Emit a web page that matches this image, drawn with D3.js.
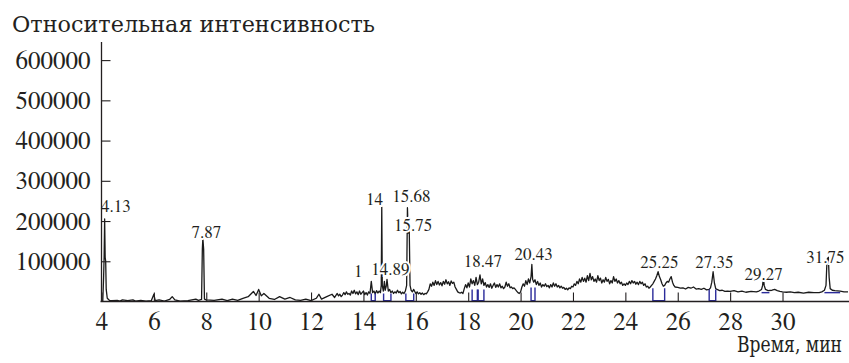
<!DOCTYPE html>
<html>
<head>
<meta charset="utf-8">
<script src="https://cdn.jsdelivr.net/npm/d3@7"></script>
<style>
    body { margin: 0; background: #fff; }
</style>
</head>
<body>
<div id="chart-area"></div>
<script>
// retention time (min) and intensity of the chromatogram trace
var traceTime = [4.00, 4.05, 4.08, 4.10, 4.12, 4.14, 4.16, 4.18, 4.22, 4.3, 4.4, 4.6, 4.7, 4.8, 5.0, 5.2, 5.3, 5.5, 5.7, 5.9,
    6.0, 6.05, 6.2, 6.4, 6.6, 6.7, 6.8, 7.0, 7.3, 7.6, 7.7, 7.82, 7.85, 7.87, 7.9, 7.93, 8.0, 8.3, 8.6, 8.8,
    9.0, 9.2, 9.4, 9.6, 9.8, 9.9, 10.0, 10.1, 10.2, 10.4, 10.6, 10.8, 11.0, 11.2, 11.4, 11.6, 11.8, 12.0, 12.2, 12.3,
    12.4, 12.6, 12.8, 12.9,
    13.00, 13.05, 13.10, 13.15, 13.20, 13.25, 13.30, 13.35, 13.40, 13.45, 13.50, 13.55, 13.60, 13.65, 13.70, 13.75, 13.80, 13.85, 13.90, 13.95,
    14.00, 14.05, 14.10, 14.15, 14.20, 14.25, 14.30, 14.35, 14.40, 14.45, 14.50, 14.55, 14.60, 14.65, 14.68, 14.70, 14.72, 14.76, 14.80, 14.83,
    14.87, 14.90, 14.95, 15.00, 15.05, 15.10, 15.15, 15.20, 15.25, 15.30, 15.35, 15.40, 15.45, 15.50, 15.55, 15.60, 15.65, 15.68, 15.71, 15.75,
    15.78, 15.82, 15.87, 15.92, 16.00, 16.05, 16.10, 16.15, 16.20, 16.25, 16.30, 16.35, 16.40, 16.45,
    16.50, 16.55, 16.60, 16.65, 16.70, 16.75, 16.80, 16.85, 16.90, 16.95, 17.00, 17.05, 17.10, 17.15, 17.20, 17.25, 17.30, 17.35, 17.40, 17.45,
    17.50, 17.55, 17.60, 17.65, 17.70, 17.75, 17.80, 17.85, 17.90, 17.95, 18.00, 18.05, 18.10, 18.15, 18.20, 18.25, 18.30, 18.35, 18.40, 18.45,
    18.50, 18.55, 18.60, 18.65, 18.70, 18.75, 18.80, 18.85, 18.90, 18.95, 19.00, 19.05, 19.10, 19.15, 19.20, 19.25, 19.30, 19.35, 19.40, 19.45,
    19.50, 19.55, 19.60, 19.65, 19.70, 19.75, 19.80, 19.85, 19.90, 19.95, 20.00, 20.05, 20.10, 20.15, 20.20, 20.25, 20.30, 20.35, 20.40, 20.43,
    20.46, 20.50, 20.55, 20.60, 20.65, 20.70, 20.75, 20.80, 20.85, 20.90, 20.95, 21.00, 21.05, 21.10, 21.15, 21.20, 21.25, 21.30, 21.35, 21.40,
    21.45, 21.50, 21.55, 21.60, 21.65, 21.70, 21.75, 21.80, 21.85, 21.90, 21.95, 22.00, 22.05, 22.10, 22.15, 22.20, 22.25, 22.30, 22.35, 22.40,
    22.45, 22.50, 22.55, 22.60, 22.65, 22.70, 22.75, 22.80, 22.85, 22.90, 22.95, 23.00, 23.05, 23.10, 23.15, 23.20, 23.25, 23.30, 23.35, 23.40,
    23.45, 23.50, 23.55, 23.60, 23.65, 23.70, 23.75, 23.80, 23.85, 23.90, 23.95, 24.00, 24.05, 24.10, 24.15, 24.20, 24.25, 24.30, 24.35, 24.40,
    24.45, 24.50, 24.55, 24.60, 24.65, 24.70, 24.75, 24.80, 24.85, 24.90, 24.95, 25.00, 25.05, 25.10, 25.15, 25.20, 25.25, 25.30, 25.35, 25.40,
    25.45, 25.50, 25.55, 25.60, 25.65, 25.70, 25.75, 25.80, 25.85, 25.90, 26.0, 26.1, 26.2, 26.3, 26.4, 26.5, 26.6, 26.7, 26.8, 26.9,
    27.0, 27.1, 27.2, 27.25, 27.3, 27.35, 27.4, 27.45, 27.5, 27.6, 27.7, 27.8, 27.9, 28.0, 28.15, 28.3, 28.45, 28.6, 28.8, 29.0,
    29.1, 29.2, 29.24, 29.27, 29.3, 29.35, 29.45, 29.6, 29.7, 29.8, 29.9, 30.0, 30.15, 30.3, 30.45, 30.6, 30.8, 31.0, 31.2, 31.4,
    31.5, 31.6, 31.66, 31.7, 31.75, 31.78, 31.82, 31.9, 32.0, 32.2, 32.35, 32.5];
var traceValue = [0, 2000, 60000, 110000, 205000, 110000, 100000, 30000, 8000, 3000, 2000, 3000, 1000, 4000, 2000, 4000, 1000, 3000, 1000, 2000,
    18000, 2000, 4000, 1000, 5000, 12000, 4000, 1000, 2000, 6000, 3000, 5000, 130000, 157000, 130000, 6000, 4000, 3000, 6000, 2000,
    6000, 3000, 8000, 12000, 25000, 15000, 30000, 14000, 20000, 8000, 5000, 12000, 6000, 10000, 4000, 3000, 6000, 2000, 8000, 18000,
    6000, 12000, 18000, 10000,
    20000, 14000, 18000, 12000, 16000, 22000, 17000, 24000, 18000, 20000, 16000, 26000, 20000, 28000, 19000, 24000, 17000, 26000, 18000, 22000,
    26000, 17000, 22000, 16000, 24000, 20000, 50000, 22000, 26000, 19000, 27000, 21000, 26000, 22000, 40000, 237000, 40000, 26000, 50000, 28000,
    38000, 55000, 26000, 30000, 22000, 26000, 20000, 24000, 21000, 28000, 22000, 25000, 19000, 23000, 20000, 26000, 40000, 233000, 170000, 175000,
    40000, 28000, 24000, 30000, 20000, 24000, 19000, 22000, 18000, 21000, 17000, 20000, 19000, 24000,
    30000, 44000, 38000, 48000, 40000, 52000, 42000, 50000, 41000, 47000, 39000, 50000, 43000, 54000, 44000, 49000, 40000, 51000, 45000, 48000,
    36000, 30000, 24000, 22000, 21000, 23000, 20000, 32000, 42000, 34000, 46000, 36000, 56000, 44000, 52000, 40000, 60000, 42000, 48000, 66000,
    44000, 56000, 40000, 47000, 36000, 42000, 35000, 44000, 33000, 40000, 46000, 35000, 42000, 36000, 44000, 34000, 38000, 32000, 36000, 48000,
    38000, 44000, 34000, 36000, 32000, 34000, 30000, 26000, 22000, 20000, 24000, 36000, 44000, 38000, 52000, 42000, 56000, 46000, 62000, 92000,
    55000, 48000, 54000, 42000, 50000, 40000, 46000, 36000, 42000, 38000, 44000, 37000, 40000, 34000, 42000, 36000, 46000, 38000, 44000, 36000,
    40000, 34000, 38000, 33000, 35000, 30000, 33000, 29000, 34000, 32000, 38000, 36000, 44000, 40000, 50000, 44000, 56000, 48000, 60000, 50000,
    58000, 48000, 64000, 52000, 70000, 54000, 62000, 50000, 56000, 48000, 64000, 52000, 58000, 46000, 54000, 48000, 60000, 50000, 55000, 44000,
    52000, 46000, 62000, 50000, 56000, 46000, 52000, 44000, 48000, 40000, 44000, 40000, 46000, 42000, 50000, 44000, 52000, 46000, 50000, 43000,
    48000, 42000, 50000, 44000, 48000, 40000, 44000, 36000, 38000, 33000, 36000, 40000, 44000, 50000, 56000, 64000, 74000, 62000, 54000, 44000,
    38000, 40000, 46000, 50000, 48000, 56000, 62000, 48000, 40000, 36000, 35000, 33000, 34000, 31000, 35000, 33000, 36000, 31000, 32000, 30000,
    33000, 29000, 30000, 34000, 48000, 74000, 46000, 32000, 30000, 27000, 28000, 25000, 26000, 25000, 27000, 24000, 26000, 23000, 25000, 24000,
    26000, 30000, 40000, 60000, 40000, 30000, 27000, 28000, 30000, 27000, 25000, 24000, 23000, 24000, 22000, 23000, 21000, 23000, 22000, 22000,
    24000, 28000, 40000, 105000, 110000, 60000, 32000, 28000, 27000, 26000, 24000, 24000];

// integration baselines (blue): start, end, top and bottom intensity
var baseStart = [14.3, 14.77, 15.62, 18.15, 18.38, 20.4, 25.05, 27.2, 29.2, 31.6];
var baseEnd = [14.45, 15.05, 15.92, 18.35, 18.6, 20.55, 25.5, 27.45, 29.5, 32.2];
var baseTop = [20000, 20000, 20000, 30000, 30000, 35000, 33000, 30000, 22000, 22000];
var baseBottom = [2000, 2000, 2000, 2000, 2000, 2000, 2000, 2000, 22000, 22000];

// peak labels: text, time and intensity of the label baseline
var peakText = ["4.13", "7.87", "14", "15.68", "15.75", "1", "14.89", "18.47", "20.43", "25.25", "27.35", "29.27", "31.75"];
var peakTime = [4.55, 8.0, 14.42, 15.83, 15.9, 13.8, 15.03, 18.56, 20.5, 25.3, 27.4, 29.28, 31.64];
var peakLevel = [222000, 158000, 240000, 248000, 174000, 61000, 66000, 86000, 103000, 83000, 83000, 53000, 96000];

var xTicks = [4, 6, 8, 10, 12, 14, 16, 18, 20, 22, 24, 26, 28, 30];
var yTicks = [100000, 200000, 300000, 400000, 500000, 600000];

var width = 849;
var height = 363;
var ink = "#231f20";
// digits in a Times face; Cyrillic only exists in DejaVu Serif here
var serif = "FreeSerif, 'Liberation Serif', 'Times New Roman', 'DejaVu Serif'";
var cyrSerif = "'DejaVu Serif', serif";

var svg = d3.select("#chart-area")
    .append("svg")
    .attr("width", width)
    .attr("height", height);

var x = d3.scaleLinear()
    .domain([4, 32.5])
    .range([101.5, 848]);

var y = d3.scaleLinear()
    .domain([0, 645000])
    .range([301.5, 42]);

// chromatogram
var line = d3.line()
    .x(function (d) { return x(d[0]); })
    .y(function (d) { return y(d[1]); });

svg.append("path")
    .datum(d3.zip(traceTime, traceValue))
    .attr("fill", "none")
    .attr("stroke", "#1a1a1a")
    .attr("stroke-width", 1.3)
    .attr("stroke-linejoin", "round")
    .attr("d", line);

// integration baselines
svg.selectAll(".base")
    .data(d3.range(baseStart.length))
    .enter()
    .append("path")
    .attr("class", "base")
    .attr("fill", "none")
    .attr("stroke", "#2b2b9a")
    .attr("stroke-width", 1.4)
    .attr("d", function (i) {
        return "M" + x(baseStart[i]) + "," + y(baseTop[i]) +
            "L" + x(baseStart[i]) + "," + y(baseBottom[i]) +
            "L" + x(baseEnd[i]) + "," + y(baseBottom[i]) +
            "L" + x(baseEnd[i]) + "," + y(baseTop[i]);
    });

// peak labels with white halo
svg.selectAll(".peak")
    .data(d3.range(peakText.length))
    .enter()
    .append("text")
    .attr("class", "peak")
    .attr("x", function (i) { return x(peakTime[i]); })
    .attr("y", function (i) { return y(peakLevel[i]); })
    .attr("text-anchor", "middle")
    .attr("font-size", "17px")
    .attr("fill", ink)
    .attr("stroke", "#fff")
    .attr("stroke-width", 4)
    .attr("paint-order", "stroke")
    .text(function (i) { return peakText[i]; });

// X axis
var xAxisCall = d3.axisBottom(x)
    .tickValues(xTicks)
    .tickSize(-9)
    .tickPadding(0)
    .tickFormat(function (d) { return d; });

var xAxis = svg.append("g")
    .attr("class", "x-axis")
    .attr("transform", "translate(0," + y(0) + ")")
    .call(xAxisCall);
xAxis.select(".domain").attr("d", "M" + (x(4) - 1) + ",0H" + width).attr("stroke", ink).attr("stroke-width", 1.3);
xAxis.selectAll("line").attr("stroke", ink).attr("stroke-width", 1.1);
xAxis.selectAll("text")
    .attr("y", 28)
    .attr("dy", 0)
    .attr("fill", ink)
    .attr("font-size", "25px");

// Y axis
var yAxisCall = d3.axisLeft(y)
    .tickValues(yTicks)
    .tickSize(-9)
    .tickPadding(11)
    .tickFormat(function (d) { return d; });

var yAxis = svg.append("g")
    .attr("class", "y-axis")
    .attr("transform", "translate(" + x(4) + ",0)")
    .call(yAxisCall);
yAxis.select(".domain").attr("d", "M0," + y(645000) + "V" + y(0)).attr("stroke", ink).attr("stroke-width", 1.3);
yAxis.selectAll("line").attr("stroke", ink).attr("stroke-width", 1.1);
yAxis.selectAll("text")
    .attr("fill", ink)
    .attr("font-size", "25px");

// serif face for the numbers, set last so it wins over the axis defaults
svg.selectAll("text")
    .style("font-family", serif);

// Y Label (DejaVu is wide, so squeeze it to the original width)
svg.append("text")
    .attr("x", 12)
    .attr("y", 32)
    .attr("font-size", "22px")
    .attr("fill", ink)
    .attr("textLength", 363)
    .attr("lengthAdjust", "spacingAndGlyphs")
    .style("font-family", cyrSerif)
    .text("Относительная интенсивность");

// X Label
svg.append("text")
    .attr("x", 737)
    .attr("y", 352)
    .attr("font-size", "22px")
    .attr("fill", ink)
    .attr("textLength", 105)
    .attr("lengthAdjust", "spacingAndGlyphs")
    .style("font-family", cyrSerif)
    .text("Время, мин");
</script>
</body>
</html>
